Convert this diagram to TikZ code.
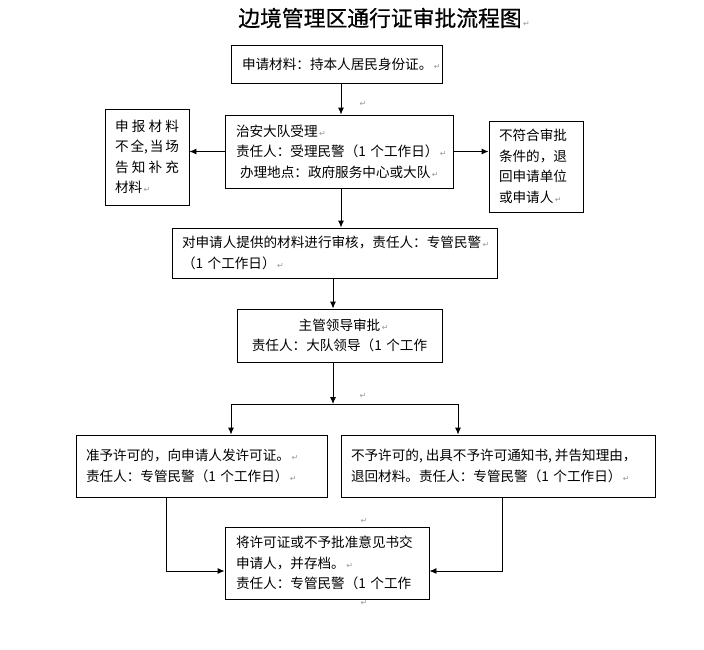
\documentclass[tikz,border=0pt]{standalone}
\usepackage{fontspec}
\usetikzlibrary{arrows.meta,calc}
\newfontfamily\cjk{Noto Sans CJK SC}
\newfontfamily\cjktitle[FakeBold=0.6]{Noto Sans CJK SC}
\newfontfamily\dejavu{DejaVu Sans}
\newcommand\pmark{\rlap{\kern1.5pt\textcolor{black!40}{\dejavu\fontsize{8}{8}\selectfont ↵}}}
\tikzset{
	flowbox/.style={draw, line width=0.9pt, inner ysep=0pt, inner xsep=10pt, align=left, font=\cjk\fontsize{13.6}{20.5}\selectfont},
	flowarrow/.style={line width=0.9pt, -{Latex[length=7pt,width=6pt]}},
	flowline/.style={line width=0.9pt},
	parmark/.style={inner sep=0pt, text=black!40, font=\dejavu\fontsize{8}{8}\selectfont},
}

\begin{document}
\begin{tikzpicture}[x=1pt, y=-1pt]
	%%%%% START %%%%%
	\useasboundingbox (0,0) rectangle (704,649);
	
	\node[font=\cjktitle\fontsize{21.8}{24}\selectfont] (title) at (380,18) {边境管理区通行证审批流程图\pmark};
	
	\node[flowbox, text width=189pt, inner xsep=11pt, minimum height=38pt] (apply) at (336.5,64) {申请材料：持本人居民身份证。\pmark};
	\node[flowbox, text width=206pt, inner xsep=11pt, minimum height=73pt] (accept) at (339,151.5) {治安大队受理\pmark\\ 责任人：受理民警（1 个工作日）\pmark\\ \hspace*{4pt}办理地点：政府服务中心或大队\pmark};
	\node[flowbox, text width=64pt, minimum height=96pt] (supply) at (147,157) {\makebox[64pt][l]{申\hfill 报\hfill 材\hfill 料}\\ \makebox[64pt][l]{不\hfill 全,\hfill 当\hfill 场}\\ \makebox[64pt][l]{告\hfill 知\hfill 补\hfill 充}\\ 材料\pmark};
	\node[flowbox, text width=74pt, minimum height=91pt] (reject) at (536,166.5) {不符合审批\\ 条件的，退\\ 回申请单位\\ 或申请人\pmark};
	
	\node[flowbox, text width=305pt, minimum height=50pt] (review) at (334.5,253) {对申请人提供的材料进行审核，责任人：专管民警\pmark\\ （1 个工作日）\pmark};
	\node[flowbox, align=center, text width=185pt, minimum height=53pt] (leader) at (339.5,335.5) {主管领导审批\pmark\\ 责任人：大队领导（1 个工作};
	
	\node[flowbox, text width=231pt, minimum height=62pt] (grant) at (201.5,466) {准予许可的，向申请人发许可证。\pmark\\ 责任人：专管民警（1 个工作日）\pmark};
	\node[flowbox, text width=294pt, minimum height=62pt] (deny) at (498,466) {不予许可的,\kern3pt 出具不予许可通知书,\kern3pt 并告知理由，\\ 退回材料。责任人：专管民警（1 个工作日）\pmark};
	
	\node[flowbox, text width=182pt, inner xsep=11pt, minimum height=72pt] (archive) at (327,563) {将许可证或不予批准意见书交\\ 申请人，并存档。\pmark\\ 责任人：专管民警（1 个工作};
	
	% stray paragraph marks
	\node[parmark] (pm1) at (363,104) {↵};
	\node[parmark] (pm2) at (363,396) {↵};
	\node[parmark] (pm3) at (364,521) {↵};
	\node[parmark] (pm4) at (364,603) {↵};
	
	% connectors
	\coordinate (upper) at (341,0);
	\coordinate (lower) at (333,0);
	\draw[flowarrow] (apply.south -| upper) -- (accept.north -| upper);
	\draw[flowarrow] (accept.west) -- (supply.east |- accept.west);
	\draw[flowarrow] (accept.east) -- (reject.west |- accept.east);
	\draw[flowarrow] (accept.south -| upper) -- (review.north -| upper);
	\draw[flowarrow] (review.south -| lower) -- (leader.north -| lower);
	
	\coordinate (split) at (333,404);
	\coordinate (splitL) at (231,404);
	\coordinate (splitR) at (458,404);
	\draw[flowarrow] (leader.south -| split) -- (split);
	\draw[flowline] (splitL) -- (splitR);
	\draw[flowarrow] (splitL) -- (grant.north -| splitL);
	\draw[flowarrow] (splitR) -- (deny.north -| splitR);
	
	\coordinate (joinL) at (166,571);
	\coordinate (joinR) at (502,571);
	\draw[flowarrow] (grant.south -| joinL) |- (archive.west |- joinL);
	\draw[flowarrow] (deny.south -| joinR) |- (archive.east |- joinR);
	
	%%%%% END %%%%%
\end{tikzpicture}
\end{document}
